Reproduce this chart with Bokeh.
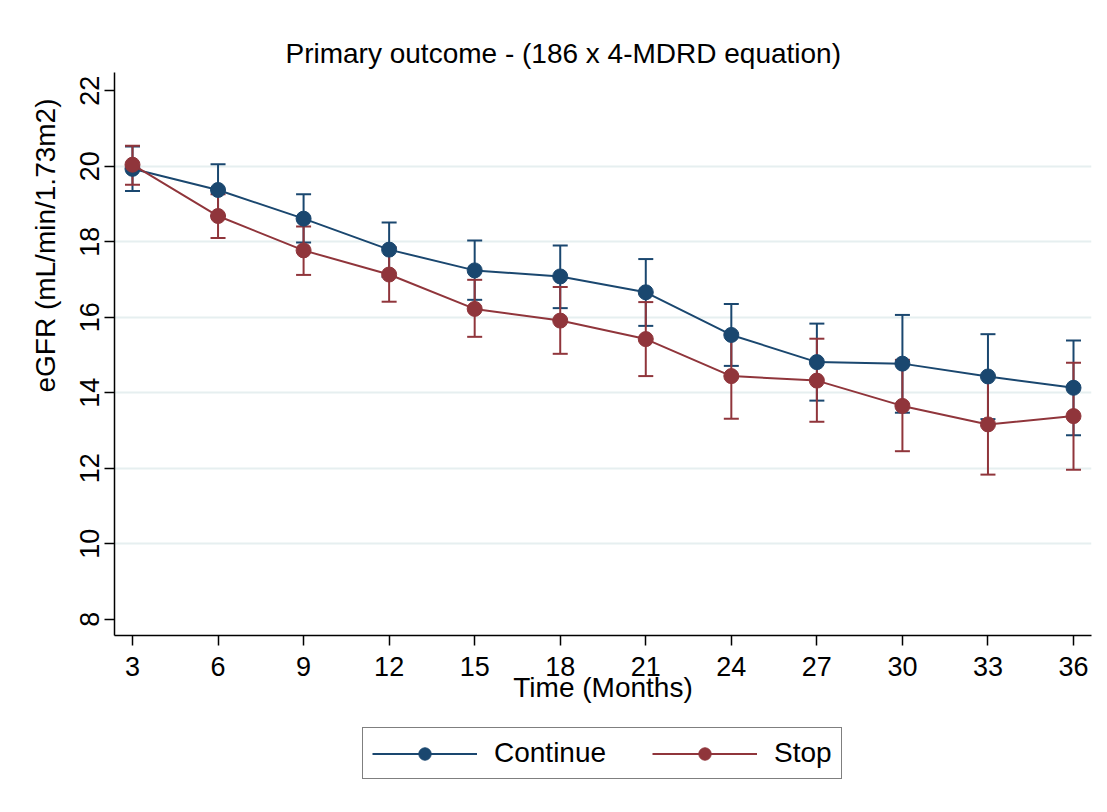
from bokeh.plotting import figure
from bokeh.layouts import column
from bokeh.models import Range1d, FixedTicker, Legend, LegendItem, Title, ColumnDataSource
from bokeh.embed import file_html
from bokeh.resources import INLINE

months = [3, 6, 9, 12, 15, 18, 21, 24, 27, 30, 33, 36]
continue_mean = [19.93, 19.37, 18.61, 17.79, 17.24, 17.08, 16.66, 15.53, 14.81, 14.77, 14.43, 14.13]
continue_lower = [19.34, 18.69, 17.98, 17.07, 16.46, 16.24, 15.77, 14.71, 13.79, 13.47, 13.30, 12.87]
continue_upper = [20.52, 20.05, 19.26, 18.51, 18.03, 17.90, 17.54, 16.35, 15.83, 16.06, 15.55, 15.38]
stop_mean = [20.04, 18.68, 17.77, 17.13, 16.22, 15.91, 15.42, 14.44, 14.32, 13.65, 13.16, 13.38]
stop_lower = [19.51, 18.10, 17.12, 16.41, 15.48, 15.03, 14.44, 13.31, 13.23, 12.45, 11.83, 11.96]
stop_upper = [20.54, 19.26, 18.40, 17.85, 16.99, 16.80, 16.40, 15.57, 15.43, 14.87, 14.45, 14.79]
y_ticks = [8, 10, 12, 14, 16, 18, 20, 22]
grid_ticks = [10, 12, 14, 16, 18, 20]
series_names = ["Continue", "Stop"]

BLUE = "#1a476f"
RED = "#90353b"
FONT = "Liberation Sans"

src_c = ColumnDataSource(dict(x=months, y=continue_mean, lo=continue_lower, hi=continue_upper))
src_s = ColumnDataSource(dict(x=months, y=stop_mean, lo=stop_lower, hi=stop_upper))

p = figure(frame_width=977, frame_height=563,
           x_range=Range1d(2.369, 36.631), y_range=Range1d(7.568, 22.482),
           output_backend="svg", toolbar_location=None,
           min_border_left=114, min_border_right=16, min_border_top=72, min_border_bottom=85,
           background_fill_color="white", border_fill_color="white", outline_line_color=None)

# title
p.title.text = "Primary outcome - (186 x 4-MDRD equation)"
p.title.align = "left"
p.title.offset = 171
p.title.text_font = FONT
p.title.text_font_size = "28px"
p.title.text_font_style = "normal"
p.title.text_color = "black"
p.title.standoff = 8

# axes
for ax in (p.xaxis[0], p.yaxis[0]):
    ax.axis_line_color = "black"
    ax.axis_line_width = 1.5
    ax.major_tick_line_color = "black"
    ax.major_tick_line_width = 1.5
    ax.major_tick_out = 10
    ax.major_tick_in = 0
    ax.minor_tick_line_color = None
    ax.major_label_text_font = FONT
    ax.major_label_text_font_size = "27px"
    ax.major_label_text_color = "black"

p.xaxis.ticker = FixedTicker(ticks=months)
p.yaxis.ticker = FixedTicker(ticks=y_ticks)
p.yaxis.major_label_orientation = "vertical"
p.xaxis.major_label_standoff = 11
p.yaxis.major_label_standoff = 5
p.xaxis.axis_label = "Time (Months)"
p.xaxis.axis_label_text_font = FONT
p.xaxis.axis_label_text_font_size = "28px"
p.xaxis.axis_label_text_font_style = "normal"
p.xaxis.axis_label_text_color = "black"
p.xaxis.axis_label_standoff = -7

ytitle = Title(text="eGFR (mL/min/1.73m2)", align="right", offset=26,
               text_font=FONT, text_font_size="28px", text_font_style="normal",
               text_color="black", standoff=33)
p.add_layout(ytitle, "left")

# grid
p.xgrid.visible = False
p.ygrid.ticker = FixedTicker(ticks=grid_ticks)
p.ygrid.grid_line_color = "#e6eff0"
p.ygrid.grid_line_width = 2

# error bars
for src, col in ((src_c, BLUE), (src_s, RED)):
    p.segment(x0="x", y0="lo", x1="x", y1="hi", source=src, line_color=col, line_width=2)
    p.scatter(x="x", y="lo", source=src, marker="dash", size=15, line_color=col, line_width=2)
    p.scatter(x="x", y="hi", source=src, marker="dash", size=15, line_color=col, line_width=2)

p.line(x="x", y="y", source=src_c, line_color=BLUE, line_width=2)
p.scatter(x="x", y="y", source=src_c, marker="circle", size=15, fill_color=BLUE, line_color=BLUE)
p.line(x="x", y="y", source=src_s, line_color=RED, line_width=2)
p.scatter(x="x", y="y", source=src_s, marker="circle", size=15, fill_color=RED, line_color=RED)

# legend in its own strip below the plot (its renderers use the same data, out of view)
lg = figure(frame_width=977, frame_height=92, x_range=Range1d(100, 101), y_range=Range1d(100, 101),
            x_axis_type=None, y_axis_type=None, output_backend="svg", toolbar_location=None,
            min_border_left=114, min_border_right=16, min_border_top=0, min_border_bottom=0,
            outline_line_color=None,
            background_fill_color="white", border_fill_color="white")
lg.xgrid.visible = False
lg.ygrid.visible = False
items = []
for name, src, col in zip(series_names, (src_c, src_s), (BLUE, RED)):
    rl = lg.line(x="x", y="y", source=src, line_color=col, line_width=2)
    rs = lg.scatter(x="x", y="y", source=src, marker="circle", size=15, fill_color=col, line_color=col)
    items.append(LegendItem(label=name, renderers=[rl, rs]))

legend = Legend(items=items, orientation="horizontal", location=(248, 33),
                glyph_width=105, glyph_height=31, label_standoff=17, spacing=46,
                padding=9, margin=0,
                border_line_color="black", border_line_width=1,
                label_text_font=FONT, label_text_font_size="28px", label_text_color="black",
                background_fill_color="white")
lg.add_layout(legend)

layout = column(p, lg, spacing=0)
open("out.html", "w").write(file_html(layout, INLINE))
